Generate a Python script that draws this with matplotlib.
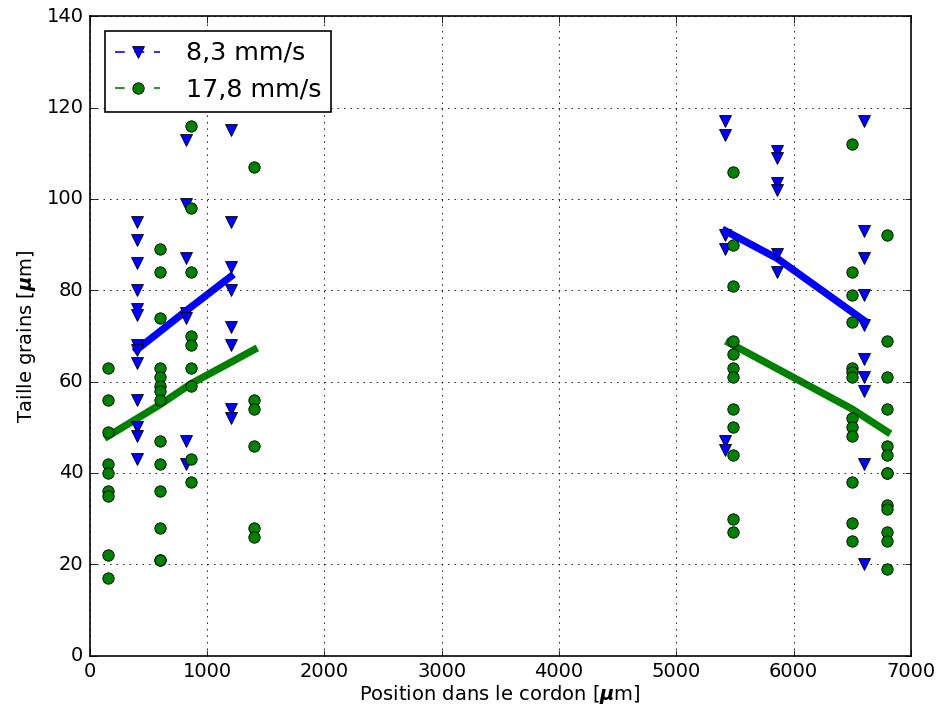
import matplotlib
matplotlib.use("Agg")
import matplotlib.pyplot as plt
from matplotlib.lines import Line2D

plt.style.use('classic')
plt.rcParams['mathtext.fontset'] = 'dejavusans'

# positions (um) and grain sizes (um) for each speed
pos_83 = [400, 820, 1200, 5420, 5860, 6600]
taille_83 = [
    [95, 91, 86, 80, 76, 74.5, 68, 67, 64, 56, 50, 48, 43],
    [113, 99, 87, 75, 74, 47, 42],
    [115, 95, 85, 80, 72, 68, 54, 52],
    [117, 114, 92, 89, 47, 45],
    [110.5, 109, 103.5, 102, 88, 84],
    [117, 93, 87, 79, 72.5, 65, 61, 58, 42, 20],
]
pos_178 = [150, 600, 860, 1400, 5480, 6500, 6800]
taille_178 = [
    [63, 56, 49, 42, 40, 36, 35, 22, 17],
    [89, 84, 74, 63, 61, 59, 58, 56, 47, 42, 36, 28, 21, 21],
    [116, 98, 84, 70, 68, 63, 59, 43, 38],
    [107, 56, 54, 46, 28, 26],
    [106, 90, 81, 69, 66, 63, 61, 54, 50, 44, 30, 27],
    [112, 84, 79, 73, 63, 62, 61, 52, 50, 48, 38, 29, 25],
    [92, 69, 61, 54, 46, 44, 40, 40, 33, 32, 27, 25, 19],
]

# mean trend lines
trend_83_g = ([400, 820, 1200], [67, 75.5, 83])
trend_83_d = ([5420, 5860, 6600], [93, 87, 73.4])
trend_178_g = ([150, 600, 860, 1400], [48, 55, 59.5, 67])
trend_178_d = ([5450, 6500, 6800], [68.5, 54, 49])

labels = ['8,3 mm/s', '17,8 mm/s']

fig = plt.figure(figsize=(937 / 117.0, 708 / 117.0), dpi=117)
fig.patch.set_facecolor('white')
ax = fig.add_axes([0.096, 0.074, 0.876, 0.903])

for tx, ty in [trend_83_g, trend_83_d]:
    ax.plot(tx, ty, color='b', lw=4.5, solid_capstyle='projecting', zorder=2)
for tx, ty in [trend_178_g, trend_178_d]:
    ax.plot(tx, ty, color='g', lw=4.5, solid_capstyle='projecting', zorder=2)

for p, vals in zip(pos_83, taille_83):
    ax.plot([p] * len(vals), vals, ls='none', marker='v', ms=7, color='b',
            mec='k', mew=0.5, zorder=3)
for p, vals in zip(pos_178, taille_178):
    ax.plot([p] * len(vals), vals, ls='none', marker='o', ms=7, color='g',
            mec='k', mew=0.5, zorder=3)

ax.set_xlim(0, 7000)
ax.set_ylim(0, 140)
ax.grid(True, ls=':', color='k', lw=0.5)
ax.tick_params(labelsize=12)

ax.set_xlabel(r'Position dans le cordon $[\boldsymbol{\mu}\mathrm{m}]$',
              fontsize=12, labelpad=1)
ax.set_ylabel(r'Taille grains $[\boldsymbol{\mu}\mathrm{m}]$', fontsize=12)

handles = [
    Line2D([], [], color='b', ls='--', marker='v', ms=7, mec='k', mew=0.5),
    Line2D([], [], color='g', ls='--', marker='o', ms=7, mec='k', mew=0.5),
]
ax.legend(handles, labels, loc='upper left', numpoints=1, fontsize=15.5,
          fancybox=False, borderaxespad=0.6, handletextpad=1.0,
          handlelength=1.8)

fig.savefig('out.png', dpi=117, facecolor='white')
